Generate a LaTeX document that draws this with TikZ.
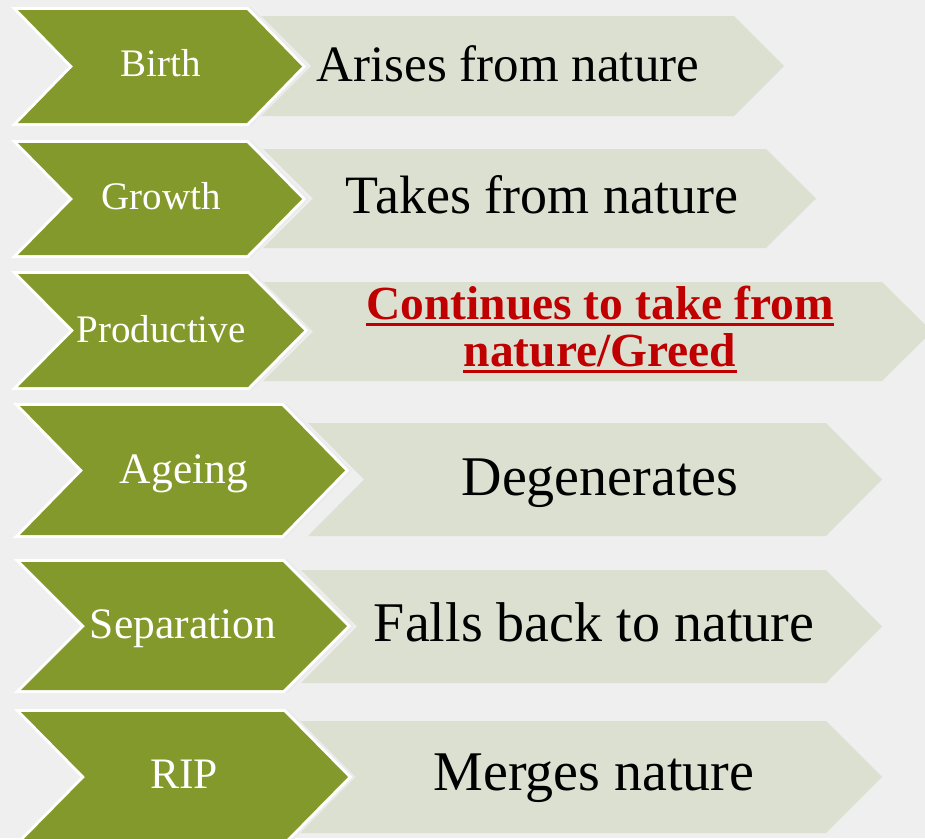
\documentclass[tikz,border=0pt]{standalone}
\usepackage{fontspec}
\setmainfont{Liberation Serif}
\definecolor{bgc}{RGB}{239,239,239}
\definecolor{olive}{RGB}{132,153,44}
\definecolor{sage}{RGB}{220,224,209}
\definecolor{redtxt}{RGB}{192,0,0}
% #1 style, #2 left x, #3 tip x, #4 top y, #5 bottom y, #6 point depth
\newcommand\chevp[6]{\path[#1] (#2,#4) -- ({#3-#6},#4) -- (#3,{(#4+#5)/2}) -- ({#3-#6},#5) -- (#2,#5) -- ({#2+#6},{(#4+#5)/2}) -- cycle;}
\newcommand\greenchev[5]{%
  \chevp{fill=black!8, draw=black!8, line width=6pt, line join=miter, shift={(3,0)}}{#1}{#2}{#3}{#4}{#5}
  \chevp{fill=white, draw=white, line width=6pt, line join=miter}{#1}{#2}{#3}{#4}{#5}
  \chevp{fill=olive}{#1}{#2}{#3}{#4}{#5}}
\newcommand\sagechev[5]{\chevp{fill=sage}{#1}{#2}{#3}{#4}{#5}}
\tikzset{
  glab/.style={text=white, inner sep=0pt, anchor=base, font=\fontsize{39}{44}\selectfont},
  glabb/.style={text=white, inner sep=0pt, anchor=base, font=\fontsize{43.5}{48}\selectfont},
  dlab/.style={text=black, inner sep=0pt, anchor=base},
  rlab/.style={text=redtxt, inner sep=0pt, anchor=base, font=\fontsize{47.5}{50}\selectfont\bfseries},
  uline/.style={draw=redtxt, line width=3pt}
}
\begin{document}
\begin{tikzpicture}[x=1pt, y=-1pt]
\useasboundingbox (0,0) rectangle (925,838);
\clip (0,0) rectangle (925,838);
\fill[bgc] (0,0) rectangle (925,838);

% row 1
\sagechev{261}{784}{16}{116}{50}
\greenchev{18}{302}{10}{123}{55}
% row 2
\sagechev{263}{816}{149}{248}{50}
\greenchev{18}{302}{143}{255}{55}
% row 3
\sagechev{263}{932}{282}{381}{50}
\greenchev{18}{304}{274}{387}{56}
% row 4
\sagechev{308}{882}{423}{536}{56}
\greenchev{20}{345}{406}{535}{63}
% row 5
\sagechev{301}{882}{570}{683}{56}
\greenchev{21}{347}{562}{690}{64}
% row 6
\sagechev{299}{882}{721}{833}{56}
\greenchev{21}{348}{712}{842}{64}

% green labels
\node[glab] (birth) at (161,76) {Birth};
\node[glab] (growth) at (161,209) {Growth};
\node[glab] (prod) at (161,342) {Productive};
\node[glabb] (ageing) at (184,483) {Ageing};
\node[glabb] (sep) at (183,638) {Separation};
\node[glabb] (rip) at (184,788) {RIP};

% descriptions
\node[dlab, font=\fontsize{51}{56}\selectfont] (arises) at (508,81) {Arises from nature};
\node[dlab, font=\fontsize{54}{58}\selectfont] (takes) at (542,213) {Takes from nature};
\node[rlab] (cont1) at (600,319) {Continues to take from};
\node[rlab] (cont2) at (600,366) {nature/Greed};
\draw[uline] ([yshift=-5pt]cont1.base west) -- ([yshift=-5pt]cont1.base east);
\draw[uline] ([yshift=-5pt]cont2.base west) -- ([yshift=-5pt]cont2.base east);
\node[dlab, font=\fontsize{56}{60}\selectfont] (degen) at (600,495) {Degenerates};
\node[dlab, font=\fontsize{56}{60}\selectfont] (falls) at (594,641) {Falls back to nature};
\node[dlab, font=\fontsize{56}{60}\selectfont] (merges) at (594,790) {Merges nature};
\end{tikzpicture}
\end{document}
